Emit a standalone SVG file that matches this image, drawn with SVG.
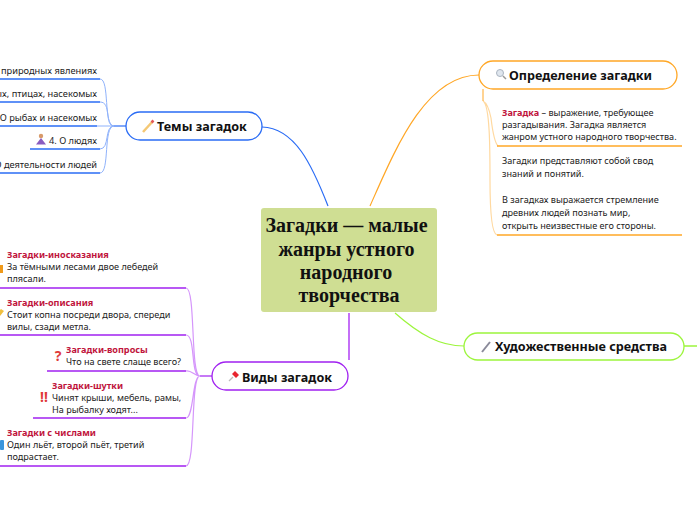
<svg xmlns="http://www.w3.org/2000/svg" width="697" height="520" viewBox="0 0 697 520">
<style>
text{font-family:"Noto Sans","DejaVu Sans",sans-serif;font-size:9.08px;fill:#222}
.e{text-anchor:end;font-size:9.25px}
.h{font-size:12.6px;font-weight:700;fill:#111}
.r{font-weight:700;fill:#c0143c}
.t{font-family:"Liberation Serif",serif;font-size:20px;font-weight:700;fill:#111;text-anchor:middle}
.m{font-size:14px;font-weight:700;fill:#e03a3a;text-anchor:middle}
.n{fill:#fff;stroke-width:1.3}
.c{fill:none}
.b{stroke:#2a6cf5}.lb{stroke:#8fb2fb;fill:none;stroke-width:1}
.u{fill:none;stroke-width:1.5}
.v{stroke:#a020f0}.lv{stroke:#d596fb;fill:none;stroke-width:1.2}
.o{stroke:#ffa726}.lo{stroke:#ffd9a0;fill:none;stroke-width:1.2}
.g{stroke:#9cf53c}
</style>
<rect width="697" height="520" fill="#fff"/>
<g id="connectors">
<path class="c b" stroke-width="1.2" d="M262 127C295 128 312 165 328 206"/>
<path class="c o" stroke-width="1.2" d="M370 206C395 150 425 75 479 75"/>
<path class="c g" stroke-width="1.2" d="M395 313C420 335 440 346 464 346"/>
<path class="c g" stroke-width="1.5" d="M684 346H697"/>
<path class="c" stroke="#b64cf5" stroke-width="1.6" d="M349 313V360"/>
<path class="c b" stroke-width="1.2" d="M114 126H126"/>
<path class="lb" d="M114 126C103 126 110 79 100 79M114 126C104 126 112 102 100 102M114 126H97M114 126C104 126 110 149 100 149M114 126C103 126 110 173 100 173"/>
<path class="c v" stroke-width="1.2" d="M200 376H212"/>
<path class="lv" d="M200 376C190 376 196 288 186 288M200 376C190 376 196 335 186 335M200 376C194 376 192 370 186 371M200 376C192 376 194 418 186 418M200 376C190 376 196 466 186 466"/>
<path class="lo" d="M483 101C487 103 489 108 491 118C493 135 495 143 498 146M483 101C490 105 490 150 490 180C490 220 493 234 497 235"/>
<path class="c o" stroke-width="1" d="M483 89V101"/>
</g>
<g id="center"><rect x="261" y="208" width="176" height="104" rx="3" fill="#cfde93"/>
<text class="t" x="346.500" y="232">Загадки — малые</text><text class="t" x="346.500" y="256">жанры устного</text><text class="t" x="346" y="279">народного</text><text class="t" x="349" y="302">творчества</text></g>
<g id="themes"><rect class="n b" x="126" y="112" width="136" height="28" rx="14"/>
<path d="M143 132L153 121" stroke="#f4c875" stroke-width="2.5"/><path d="M151.500 122.500L153.500 120.500" stroke="#e2585a" stroke-width="2.5"/><text class="h" x="157" y="131">Темы загадок</text></g>
<g id="t1"><text class="e" x="97" y="74">1. О природных явлениях</text><path class="u b" d="M-1 79H100"/></g>
<g id="t2"><text class="e" x="97" y="97">2. О животных, птицах, насекомых</text><path class="u b" d="M-1 102H100"/></g>
<g id="t3"><text class="e" x="97" y="121">3. О рыбах и насекомых</text><path class="u b" d="M-1 126H97"/></g>
<g id="t4"><circle cx="41" cy="136" r="2.200" fill="#d89a6a"/><path d="M36 144.500L41 138L46 144.500Z" fill="#8a5cc0"/><text class="e" x="97" y="144">4. О людях</text><path class="u b" d="M30 149H100"/></g>
<g id="t5"><text class="e" x="97" y="168">5. О деятельности людей</text><path class="u b" d="M-1 173H100"/></g>
<g id="kinds"><rect class="n v" x="212" y="362" width="136" height="28" rx="14"/>
<path d="M229 381L233 377" stroke="#bbb" stroke-width="1.2"/><path d="M232 374L235 371L239 375L236 378Z" fill="#e8252f"/><text class="h" x="242" y="382">Виды загадок</text></g>
<g id="k1"><rect x="0" y="265" width="3" height="8" fill="#f09a1a"/><text class="r" x="7" y="258">Загадки-иносказания</text><text x="7" y="270">За тёмными лесами двое лебедей</text><text x="7" y="282">плясали.</text><path class="u v" d="M-1 288H186"/></g>
<g id="k2"><path d="M0 316L4 311L1 309L0 310Z" fill="#f0c040"/><text class="r" x="7" y="306">Загадки-описания</text><text x="7" y="318">Стоит копна посреди двора, спереди</text><text x="7" y="330">вилы, сзади метла.</text><path class="u v" d="M-1 335H186"/></g>
<g id="k3"><text class="m" x="58" y="361">?</text><text class="r" x="66" y="353">Загадки-вопросы</text><text x="66" y="365">Что на свете слаще всего?</text><path class="u v" d="M47 371H186"/></g>
<g id="k4"><text class="m" x="44" y="402">!!</text><text class="r" x="52" y="389">Загадки-шутки</text><text x="52" y="401">Чинят крыши, мебель, рамы,</text><text x="52" y="413">На рыбалку ходят...</text><path class="u v" d="M33 418H186"/></g>
<g id="k5"><rect x="0" y="440" width="4" height="10" rx="1" fill="#3a96dd"/><text class="r" x="7" y="436">Загадки с числами</text><text x="7" y="448">Один льёт, второй пьёт, третий</text><text x="7" y="460">подрастает.</text><path class="u v" d="M-1 466H186"/></g>
<g id="def"><rect class="n o" x="479" y="61" width="198" height="28" rx="14"/>
<circle cx="500" cy="73" r="3.500" fill="#dfe6ee" stroke="#aab4c0"/><path d="M503 76L506 79" stroke="#999" stroke-width="1.5"/><text class="h" x="509" y="80">Определение загадки</text></g>
<g id="d1"><text x="502" y="116"><tspan class="r">Загадка</tspan> – выражение, требующее</text><text x="502" y="128">разгадывания. Загадка является</text><text x="502" y="140">жанром устного народного творчества.</text><path class="u o" d="M497 146H682"/></g>
<g id="d2"><text x="502" y="164">Загадки представляют собой свод</text><text x="502" y="177">знаний и понятий.</text><text x="502" y="203">В загадках выражается стремление</text><text x="502" y="216">древних людей познать мир,</text><text x="502" y="229">открыть неизвестные его стороны.</text><path class="u o" d="M497 235H682"/></g>
<g id="art"><rect class="n g" x="464" y="333" width="220" height="27" rx="13.500"/>
<path d="M482 352L490 342" stroke="#8a8a9a" stroke-width="2"/><text class="h" x="495" y="351">Художественные средства</text></g>
</svg>
